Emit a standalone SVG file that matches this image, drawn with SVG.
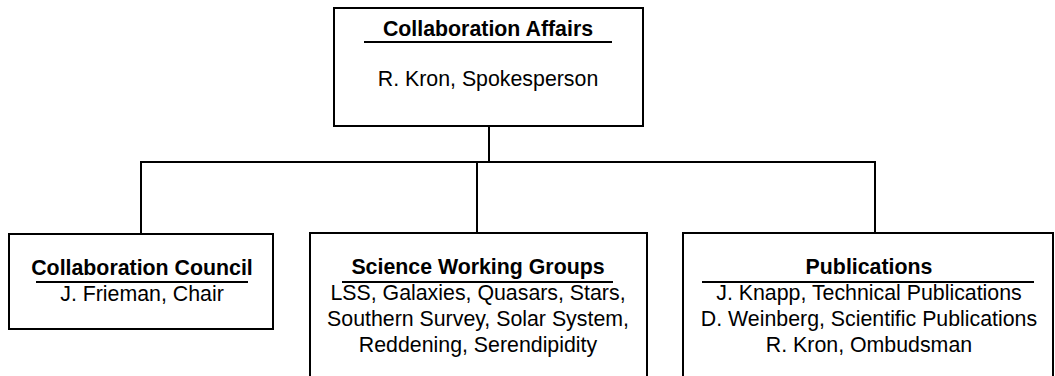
<svg xmlns="http://www.w3.org/2000/svg" width="1055" height="376" viewBox="0 0 1055 376">
<style>
.box{fill:#fff;stroke:#000;stroke-width:2}
.ln{fill:none;stroke:#000;stroke-width:2}
.t{font-family:"Liberation Sans",Arial,sans-serif;font-size:21.33px;fill:#000;text-anchor:middle}
.b{font-weight:bold}
</style>
<rect width="1055" height="376" fill="#fff"/>
<g id="connectors">
<path class="ln" d="M489 126V162M141 234V162H875V234M477 162V233"/>
</g>
<g id="affairs">
<rect class="box" x="334" y="8" width="309" height="118"/>
<text class="t b" x="488" y="36">Collaboration Affairs</text>
<line class="ln" x1="364" y1="42" x2="612" y2="42"/>
<text class="t" x="488" y="86">R. Kron, Spokesperson</text>
</g>
<g id="council">
<rect class="box" x="9" y="234" width="264" height="95"/>
<text class="t b" x="142" y="275">Collaboration Council</text>
<line class="ln" x1="36" y1="282" x2="248" y2="282"/>
<text class="t" x="142" y="301">J. Frieman, Chair</text>
</g>
<g id="science">
<rect class="box" x="310" y="233" width="337" height="170"/>
<text class="t b" x="478" y="274">Science Working Groups</text>
<line class="ln" x1="342" y1="282" x2="613" y2="282"/>
<text class="t" x="478" y="300">LSS, Galaxies, Quasars, Stars,</text>
<text class="t" x="478" y="326">Southern Survey, Solar System,</text>
<text class="t" x="478" y="352">Reddening, Serendipidity</text>
</g>
<g id="publications">
<rect class="box" x="683" y="233" width="370" height="170"/>
<text class="t b" x="869" y="274">Publications</text>
<line class="ln" x1="702" y1="282" x2="1034" y2="282"/>
<text class="t" x="869" y="300">J. Knapp, Technical Publications</text>
<text class="t" x="869" y="326">D. Weinberg, Scientific Publications</text>
<text class="t" x="869" y="352">R. Kron, Ombudsman</text>
</g>
</svg>
